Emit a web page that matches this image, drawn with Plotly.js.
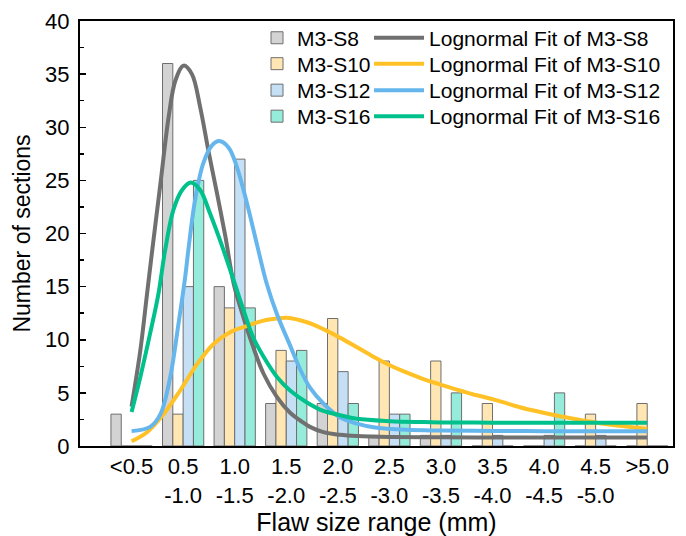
<!DOCTYPE html>
<html><head><meta charset="utf-8">
<script src="https://cdn.plot.ly/plotly-3.0.1.min.js"></script>
<style>html,body{margin:0;padding:0;background:#fff}#chart{width:686px;height:536px}</style>
</head><body><div id="chart"></div>
<script>
// Categories (flaw size bins) and tick labels
const binIndex = [0,1,2,3,4,5,6,7,8,9,10];
const tickLabels = ['&lt;0.5','0.5<br>-1.0','1.0<br>-1.5','1.5<br>-2.0','2.0<br>-2.5','2.5<br>-3.0','3.0<br>-3.5','3.5<br>-4.0','4.0<br>-4.5','4.5<br>-5.0','&gt;5.0'];
const seriesNames = ['M3-S8','M3-S10','M3-S12','M3-S16'];

// Histogram counts
const countS8  = [3,36,15,4,4,1,1,0,0,0,0];
const countS10 = [0,3,13,9,12,8,8,4,0,3,4];
const countS12 = [0,15,27,8,7,3,1,1,1,1,0];
const countS16 = [0,25,13,9,4,3,5,0,5,0,0];

// Lognormal fit curves, x in bin-index units
const fitS8x = [0,0.17,0.30,0.40,0.56,0.72,0.85,1.01,1.17,1.33,1.49,1.66,1.82,1.98,2.17,2.36,2.56,2.82,3.08,3.27,3.46,3.72,4.04,4.37,5.01,6,7,8,9,10];
const fitS8y = [3.7,9.0,14.3,18.4,24.7,31.0,34.4,35.8,35.0,31.9,27.8,23.7,19.7,15.3,12.1,9.3,6.8,4.6,3.1,2.4,1.8,1.3,1.05,0.93,0.85,0.82,0.8,0.8,0.8,0.8];

const fitS10x = [0,0.30,0.62,0.94,1.27,1.59,1.91,2.24,2.56,2.82,3.01,3.40,3.72,4.04,4.37,4.69,5.01,5.34,5.66,5.98,6.31,6.63,6.76,7.15,7.53,7.92,8.31,8.70,9.08,9.47,10];
const fitS10y = [0.45,1.3,3.0,5.2,7.7,9.6,10.7,11.3,11.8,12.0,12.07,11.65,11.0,10.2,9.3,8.4,7.6,6.9,6.3,5.8,5.3,4.85,4.7,4.2,3.65,3.2,2.8,2.45,2.15,1.9,1.6];

const fitS12x = [0,0.36,0.56,0.75,0.91,1.04,1.10,1.23,1.39,1.56,1.70,1.88,2.04,2.24,2.43,2.62,2.82,3.08,3.27,3.46,3.72,4.04,4.37,4.69,5.34,5.98,7,8,9,10];
const fitS12y = [1.4,1.8,3.0,6.5,11.5,15.9,18.4,23.1,26.6,28.3,28.7,28.1,26.3,22.8,19.0,15.3,12.4,9.4,7.2,5.5,4.0,2.7,2.1,1.77,1.52,1.46,1.42,1.4,1.4,1.4];

const fitS16x = [0,0.17,0.36,0.52,0.65,0.81,0.98,1.15,1.33,1.52,1.72,1.98,2.17,2.36,2.56,2.82,3.08,3.40,3.72,4.04,4.37,5.01,5.66,6,7,8,9,10];
const fitS16y = [3.2,6.5,10.6,14.3,18.4,22.2,24.1,24.8,24.1,21.9,19.3,15.6,12.8,10.2,8.4,6.5,5.2,4.1,3.3,2.9,2.56,2.34,2.25,2.22,2.2,2.2,2.2,2.2];

const barFill = ['rgb(211,211,211)','rgb(255,230,178)','rgb(197,224,245)','rgb(150,236,218)'];
const lineColor = ['rgb(112,112,112)','rgb(255,193,37)','rgb(102,182,238)','rgb(0,192,140)'];
const barOutline = 'rgb(110,110,110)';

const counts = [countS8,countS10,countS12,countS16];
const fitsX = [fitS8x,fitS10x,fitS12x,fitS16x];
const fitsY = [fitS8y,fitS10y,fitS12y,fitS16y];

const font = {family:'"Liberation Sans", Arial, sans-serif', color:'#000'};
// legend row positions (paper y of each row's legend box top)
const rowTop = [1.008, 0.947, 0.8847, 0.8235];

const traces = [];
const layout = {
  width:686, height:536,
  margin:{l:80, r:13, t:21, b:90},
  paper_bgcolor:'#fff', plot_bgcolor:'#fff',
  font:Object.assign({size:22}, font),
  barmode:'group', bargap:0.2, bargroupgap:0,
  showlegend:true,
  xaxis:{range:[-1,10.5], tickmode:'array', tickvals:binIndex, ticktext:tickLabels,
    showline:true, mirror:true, linecolor:'#000', linewidth:2, showgrid:false, zeroline:false,
    ticks:'', tickfont:Object.assign({size:22}, font),
    title:{text:'Flaw size range (mm)', font:Object.assign({size:25}, font), standoff:3}},
  yaxis:{range:[0,40], dtick:5, tick0:0, showline:true, mirror:true, linecolor:'#000', linewidth:2,
    showgrid:false, zeroline:false, ticks:'inside', ticklen:6, tickwidth:1.5, tickcolor:'#000',
    minor:{dtick:2.5, ticks:'inside', ticklen:3.5, tickwidth:1.5, tickcolor:'#000', showgrid:false},
    tickfont:Object.assign({size:22}, font), ticklabelstandoff:4,
    title:{text:'Number of sections', font:Object.assign({size:23}, font), standoff:8}}
};

for (let i=0;i<4;i++){
  const key = i===0 ? 'legend' : 'legend' + (2*i+1);
  traces.push({type:'bar', x:binIndex, y:counts[i], name:seriesNames[i], legend:key,
    marker:{color:barFill[i], line:{color:barOutline, width:1}}});
  layout[key] = {x:0.2985, y:rowTop[i], xanchor:'left', yanchor:'top', bgcolor:'rgba(0,0,0,0)',
    borderwidth:0, font:Object.assign({size:21}, font), itemwidth:30};
}
for (let i=0;i<4;i++){
  const key = 'legend' + (2*i+2);
  traces.push({type:'scatter', mode:'lines', x:fitsX[i], y:fitsY[i], name:'Lognormal Fit of '+seriesNames[i], legend:key,
    line:{color:lineColor[i], width:4, shape:'spline', smoothing:1}});
  layout[key] = {x:0.4874, y:rowTop[i], xanchor:'left', yanchor:'top', bgcolor:'rgba(0,0,0,0)',
    borderwidth:0, font:Object.assign({size:21}, font), itemwidth:50};
}
Plotly.newPlot('chart', traces, layout, {displayModeBar:false, staticPlot:true});
</script></body></html>
